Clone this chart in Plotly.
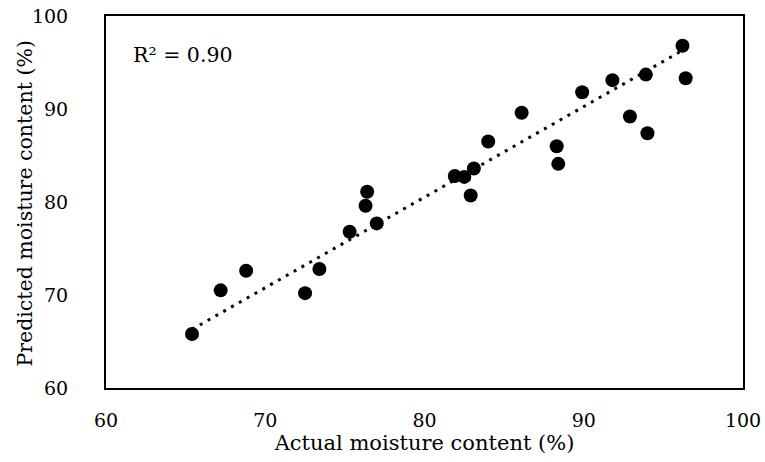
import plotly.graph_objects as go

actual = [65.4, 67.2, 68.8, 72.5, 73.4, 75.3, 77.0, 76.4, 76.3, 81.9, 82.5, 83.1,
          82.9, 84.0, 86.1, 88.3, 88.4, 89.9, 91.8, 92.9, 93.9, 94.0, 96.2, 96.4]
predicted = [65.8, 70.5, 72.6, 70.2, 72.8, 76.8, 77.7, 81.1, 79.6, 82.8, 82.7, 83.6,
             80.7, 86.5, 89.6, 86.0, 84.1, 91.8, 93.1, 89.2, 93.7, 87.4, 96.8, 93.3]
trend_x = [65.4, 96.2]
trend_y = [66.3, 96.3]
r2_label = "R² = 0.90"
x_title = "Actual moisture content (%)"
y_title = "Predicted moisture content (%)"
ticks = [60, 70, 80, 90, 100]

FONT = "DejaVu Serif"

fig = go.Figure()
fig.add_trace(go.Scatter(x=trend_x, y=trend_y, mode="lines",
                         line=dict(color="black", width=3, dash="3px,6px"),
                         hoverinfo="skip", showlegend=False))
fig.add_trace(go.Scatter(x=actual, y=predicted, mode="markers",
                         marker=dict(color="black", size=14),
                         showlegend=False))

fig.update_layout(
    width=765, height=462,
    margin=dict(l=106, r=22, t=16, b=74),
    paper_bgcolor="white", plot_bgcolor="white",
    font=dict(family=FONT, size=17.5, color="black"),
    annotations=[
        dict(text=r2_label, xref="paper", yref="paper", x=0.040, y=0.895,
             xanchor="left", yanchor="middle", showarrow=False,
             font=dict(family=FONT, size=20.5, color="black")),
        dict(text=y_title, xref="paper", yref="paper", x=-0.127, y=0.496,
             xanchor="center", yanchor="middle", textangle=-90, showarrow=False,
             font=dict(family=FONT, size=20.5, color="black")),
    ],
)
fig.update_xaxes(range=[60, 100], tickvals=ticks, showgrid=False, automargin=False,
                 zeroline=False, showline=True, linecolor="black", linewidth=2,
                 mirror=True, ticks="", ticklen=0, ticklabelstandoff=14,
                 title=dict(text=x_title, standoff=4),
                 tickfont=dict(size=19))
fig.update_yaxes(range=[60, 100], tickvals=ticks, showgrid=False, automargin=False,
                 zeroline=False, showline=True, linecolor="black", linewidth=2,
                 mirror=True, ticks="", ticklen=0, ticklabelstandoff=32,
                 tickfont=dict(size=19))

fig.write_html("out.html", config={"displayModeBar": False},
               post_script="document.body.style.margin='0px';")
